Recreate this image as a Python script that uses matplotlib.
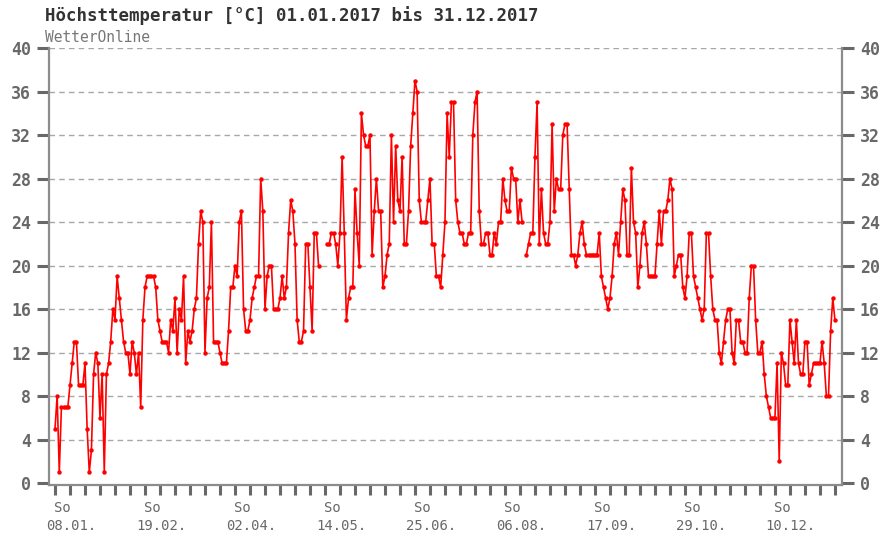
import numpy as np
import matplotlib
matplotlib.use("Agg")
import matplotlib.pyplot as plt

nan = np.nan

# daily maximum temperature 2017 (deg C), one list per month
jan = [5, 8, 1, 7, 7, 7, 7, 9, 11, 13, 13, 9, 9, 9, 11, 5, 1, 3, 10, 12,
       11, 6, 10, 1, 10, 11, 13, 16, 15, 19, 17]
feb = [15, 13, 12, 12, 10, 13, 12, 10, 12, 7, 15, 18, 19, 19, 19, 19, 18, 15,
       14, 13, 13, 13, 12, 15, 14, 17, 12, 16]
mar = [15, 19, 11, 14, 13, 14, 16, 17, 22, 25, 24, 12, 17, 18, 24, 13, 13, 13,
       12, 11, 11, 11, 14, 18, 18, 20, 19, 24, 25, 16, 14]
apr = [14, 15, 17, 18, 19, 19, 28, 25, 16, 19, 20, 20, 16, 16, 16, 17, 19, 17,
       18, 23, 26, 25, 22, 15, 13, 13, 14, 22, 22, 18]
may = [14, 23, 23, 20, nan, nan, nan, 22, 22, 23, 23, 22, 20, 23, 30, 23, 15,
       17, 18, 18, 27, 23, 20, 34, 32, 31, 31, 32, 21, 25, 28]
jun = [25, 25, 18, 19, 21, 22, 32, 24, 31, 26, 25, 30, 22, 22, 25, 31, 34, 37,
       36, 26, 24, 24, 24, 26, 28, 22, 22, 19, 19, 18]
jul = [21, 24, 34, 30, 35, 35, 26, 24, 23, 23, 22, 22, 23, 23, 32, 35, 36, 25,
       22, 22, 23, 23, 21, 21, 23, 22, 24, 24, 28, 26, 25]
aug = [25, 29, 28, 28, 24, 26, 24, nan, 21, 22, 23, 23, 30, 35, 22, 27, 23, 22,
       22, 24, 33, 25, 28, 27, 27, 32, 33, 33, 27, 21, 21]
sep = [20, 21, 23, 24, 22, 21, 21, 21, 21, 21, 21, 23, 19, 18, 17, 16, 17, 19,
       22, 23, 21, 24, 27, 26, 21, 21, 29, 24, 23, 18]
oct_ = [20, 23, 24, 22, 19, 19, 19, 19, 22, 25, 22, 25, 25, 26, 28, 27, 19, 20,
        21, 21, 18, 17, 19, 23, 23, 19, 18, 17, 16, 15, 16]
nov = [23, 23, 19, 16, 15, 15, 12, 11, 13, 15, 16, 16, 12, 11, 15, 15, 13, 13,
       12, 12, 17, 20, 20, 15, 12, 12, 13, 10, 8, 7]
dec = [6, 6, 6, 11, 2, 12, 11, 9, 9, 15, 13, 11, 15, 11, 10, 10, 13, 13, 9, 10,
       11, 11, 11, 11, 13, 11, 8, 8, 14, 17, 15]

tmax = np.array(jan + feb + mar + apr + may + jun + jul + aug + sep + oct_ + nov + dec, dtype=float)
days = np.arange(1, len(tmax) + 1)

# sundays (01.01.2017 was a sunday) and the labelled ones
sundays = np.arange(1, 366, 7)
label_days = [8, 50, 92, 134, 176, 218, 260, 302, 344]
label_dates = ["08.01.", "19.02.", "02.04.", "14.05.", "25.06.",
               "06.08.", "17.09.", "29.10.", "10.12."]
yticks = list(range(0, 41, 4))

W, H = 892, 540
mono = "DejaVu Sans Mono"
grey = "#686868"

fig = plt.figure(figsize=(W / 100, H / 100), dpi=100)
fig.patch.set_facecolor("white")
ax = fig.add_axes([49 / W, 1 - 485 / H, (842 - 49) / W, (485 - 48) / H])

for y in yticks[1:]:
    ax.axhline(y, color="#a8a8a8", lw=1.0, ls=(0, (4, 3)), zorder=0)

ax.plot(days, tmax, color="#ff0000", lw=1.2, marker="o", ms=3.2, mew=0, zorder=3)

ax.set_xlim(-1.8, 368.3)
ax.set_ylim(-0.18, 40)

ax.spines["top"].set_visible(False)
for s in ["left", "right", "bottom"]:
    ax.spines[s].set_color("#8c8c8c")
    ax.spines[s].set_linewidth(1.6)

ax.set_yticks(yticks)
ax.tick_params(axis="y", left=True, right=True, labelleft=True, labelright=True,
               length=8.5, width=2.2, color=grey, labelcolor=grey, pad=4.3)
for lab in ax.get_yticklabels():
    lab.set_fontfamily(mono)
    lab.set_fontweight("bold")
    lab.set_fontsize(12)

ax.set_xticks(sundays)
ax.set_xticklabels([])
ax.tick_params(axis="x", length=7, width=2.2, color=grey)

px = 72 / 100
for d, lab in zip(label_days, label_dates):
    ax.annotate("So", xy=(d, 0), xycoords=("data", "axes fraction"),
                xytext=(-8 * px, -23 * px), textcoords="offset points",
                ha="center", va="center", fontsize=10, family=mono, color=grey)
    ax.annotate(lab, xy=(d, 0), xycoords=("data", "axes fraction"),
                xytext=(1 * px, -41 * px), textcoords="offset points",
                ha="center", va="center", fontsize=10, family=mono, color=grey)

fig.text(45 / W, 1 - 16 / H, "Höchsttemperatur [°C] 01.01.2017 bis 31.12.2017",
         fontsize=12.5, weight="bold", family=mono, color="#333333", va="center")
fig.text(45 / W, 1 - 37 / H, "WetterOnline", fontsize=10.5, family=mono,
         color="#777777", va="center")

fig.savefig("out.png", dpi=100, facecolor="white")
